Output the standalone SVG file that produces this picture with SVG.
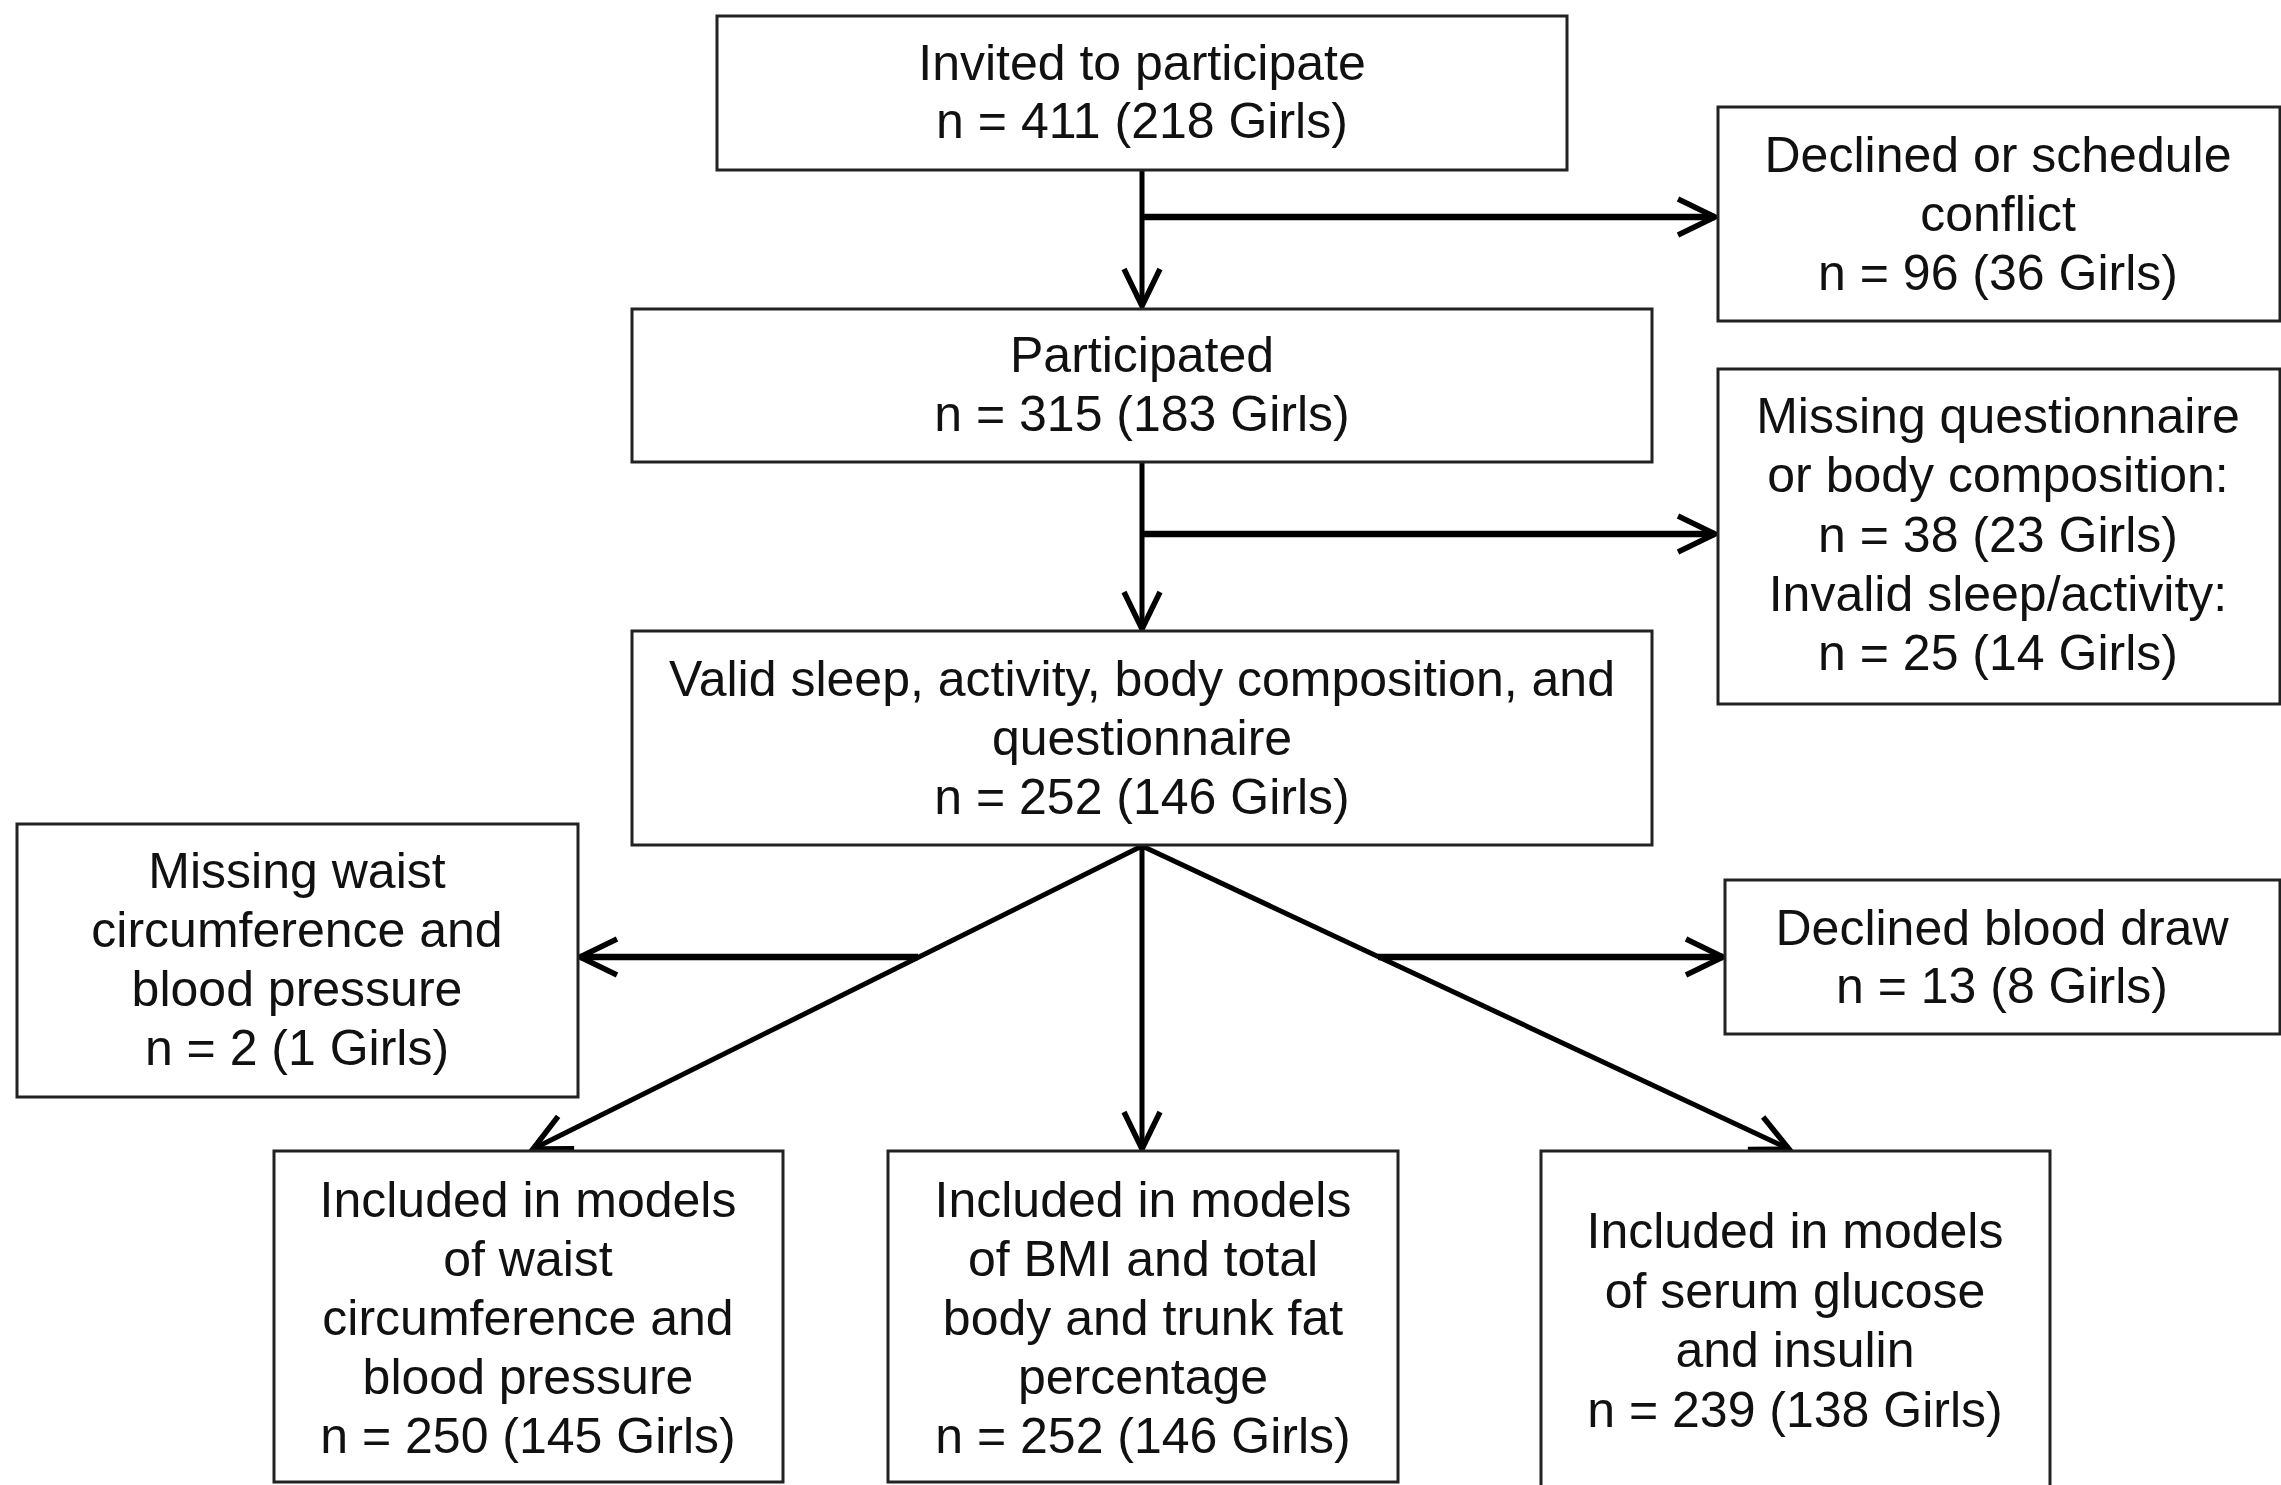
<svg xmlns="http://www.w3.org/2000/svg" width="2281" height="1485" viewBox="0 0 2281 1485">
<style>
.box{fill:#fff;stroke:#222;stroke-width:3}
.t{font-family:"Liberation Sans",Arial,sans-serif;font-size:50px;fill:#111;text-anchor:middle}
.c{fill:none;stroke:#000;stroke-width:5;stroke-linecap:butt}
.h{stroke-width:6.5}
</style>
<defs>
<marker id="ah" markerUnits="userSpaceOnUse" markerWidth="60" markerHeight="60" viewBox="-45 -30 50 60" refX="0" refY="0" orient="auto">
<path d="M-37,-18 L0,0 L-37,18" fill="none" stroke="#000" stroke-width="5.5" stroke-linejoin="miter"/>
</marker>
</defs>
<rect width="2281" height="1485" fill="#fff"/>
<g id="connectors">
<line class="c" x1="1142" y1="170" x2="1142" y2="306" marker-end="url(#ah)"/>
<line class="c h" x1="1142" y1="217" x2="1715" y2="217" marker-end="url(#ah)"/>
<line class="c" x1="1142" y1="463" x2="1142" y2="629" marker-end="url(#ah)"/>
<line class="c h" x1="1142" y1="534" x2="1715" y2="534" marker-end="url(#ah)"/>
<line class="c" x1="1142" y1="846" x2="1142" y2="1149" marker-end="url(#ah)"/>
<line class="c" x1="1142" y1="846" x2="533" y2="1149" marker-end="url(#ah)"/>
<line class="c" x1="1142" y1="846" x2="1789" y2="1149" marker-end="url(#ah)"/>
<line class="c h" x1="918" y1="957" x2="580" y2="957" marker-end="url(#ah)"/>
<line class="c h" x1="1378" y1="957" x2="1723" y2="957" marker-end="url(#ah)"/>
</g>
<g id="invited">
<rect class="box" x="717" y="16" width="850" height="154"/>
<text class="t" x="1142" y="80">Invited to participate</text>
<text class="t" x="1142" y="138">n = 411 (218 Girls)</text>
</g>
<g id="declined">
<rect class="box" x="1718" y="107" width="562" height="214"/>
<text class="t" x="1998" y="172">Declined or schedule</text>
<text class="t" x="1998" y="231">conflict</text>
<text class="t" x="1998" y="290">n = 96 (36 Girls)</text>
</g>
<g id="participated">
<rect class="box" x="632" y="309" width="1020" height="153"/>
<text class="t" x="1142" y="372">Participated</text>
<text class="t" x="1142" y="431">n = 315 (183 Girls)</text>
</g>
<g id="missing-questionnaire">
<rect class="box" x="1718" y="369" width="562" height="335"/>
<text class="t" x="1998" y="433">Missing questionnaire</text>
<text class="t" x="1998" y="492">or body composition:</text>
<text class="t" x="1998" y="552">n = 38 (23 Girls)</text>
<text class="t" x="1998" y="611">Invalid sleep/activity:</text>
<text class="t" x="1998" y="670">n = 25 (14 Girls)</text>
</g>
<g id="valid">
<rect class="box" x="632" y="631" width="1020" height="214"/>
<text class="t" x="1142" y="696">Valid sleep, activity, body composition, and</text>
<text class="t" x="1142" y="755">questionnaire</text>
<text class="t" x="1142" y="814">n = 252 (146 Girls)</text>
</g>
<g id="missing-waist">
<rect class="box" x="17" y="824" width="561" height="273"/>
<text class="t" x="297" y="888">Missing waist</text>
<text class="t" x="297" y="947">circumference and</text>
<text class="t" x="297" y="1006">blood pressure</text>
<text class="t" x="297" y="1065">n = 2 (1 Girls)</text>
</g>
<g id="declined-blood">
<rect class="box" x="1725" y="880" width="555" height="154"/>
<text class="t" x="2002" y="945">Declined blood draw</text>
<text class="t" x="2002" y="1003">n = 13 (8 Girls)</text>
</g>
<g id="included-waist">
<rect class="box" x="274" y="1151" width="509" height="331"/>
<text class="t" x="528" y="1217">Included in models</text>
<text class="t" x="528" y="1276">of waist</text>
<text class="t" x="528" y="1335">circumference and</text>
<text class="t" x="528" y="1394">blood pressure</text>
<text class="t" x="528" y="1453">n = 250 (145 Girls)</text>
</g>
<g id="included-bmi">
<rect class="box" x="888" y="1151" width="510" height="331"/>
<text class="t" x="1143" y="1217">Included in models</text>
<text class="t" x="1143" y="1276">of BMI and total</text>
<text class="t" x="1143" y="1335">body and trunk fat</text>
<text class="t" x="1143" y="1394">percentage</text>
<text class="t" x="1143" y="1453">n = 252 (146 Girls)</text>
</g>
<g id="included-glucose">
<rect class="box" x="1541" y="1151" width="509" height="340"/>
<text class="t" x="1795" y="1248">Included in models</text>
<text class="t" x="1795" y="1308">of serum glucose</text>
<text class="t" x="1795" y="1367">and insulin</text>
<text class="t" x="1795" y="1427">n = 239 (138 Girls)</text>
</g>
</svg>
